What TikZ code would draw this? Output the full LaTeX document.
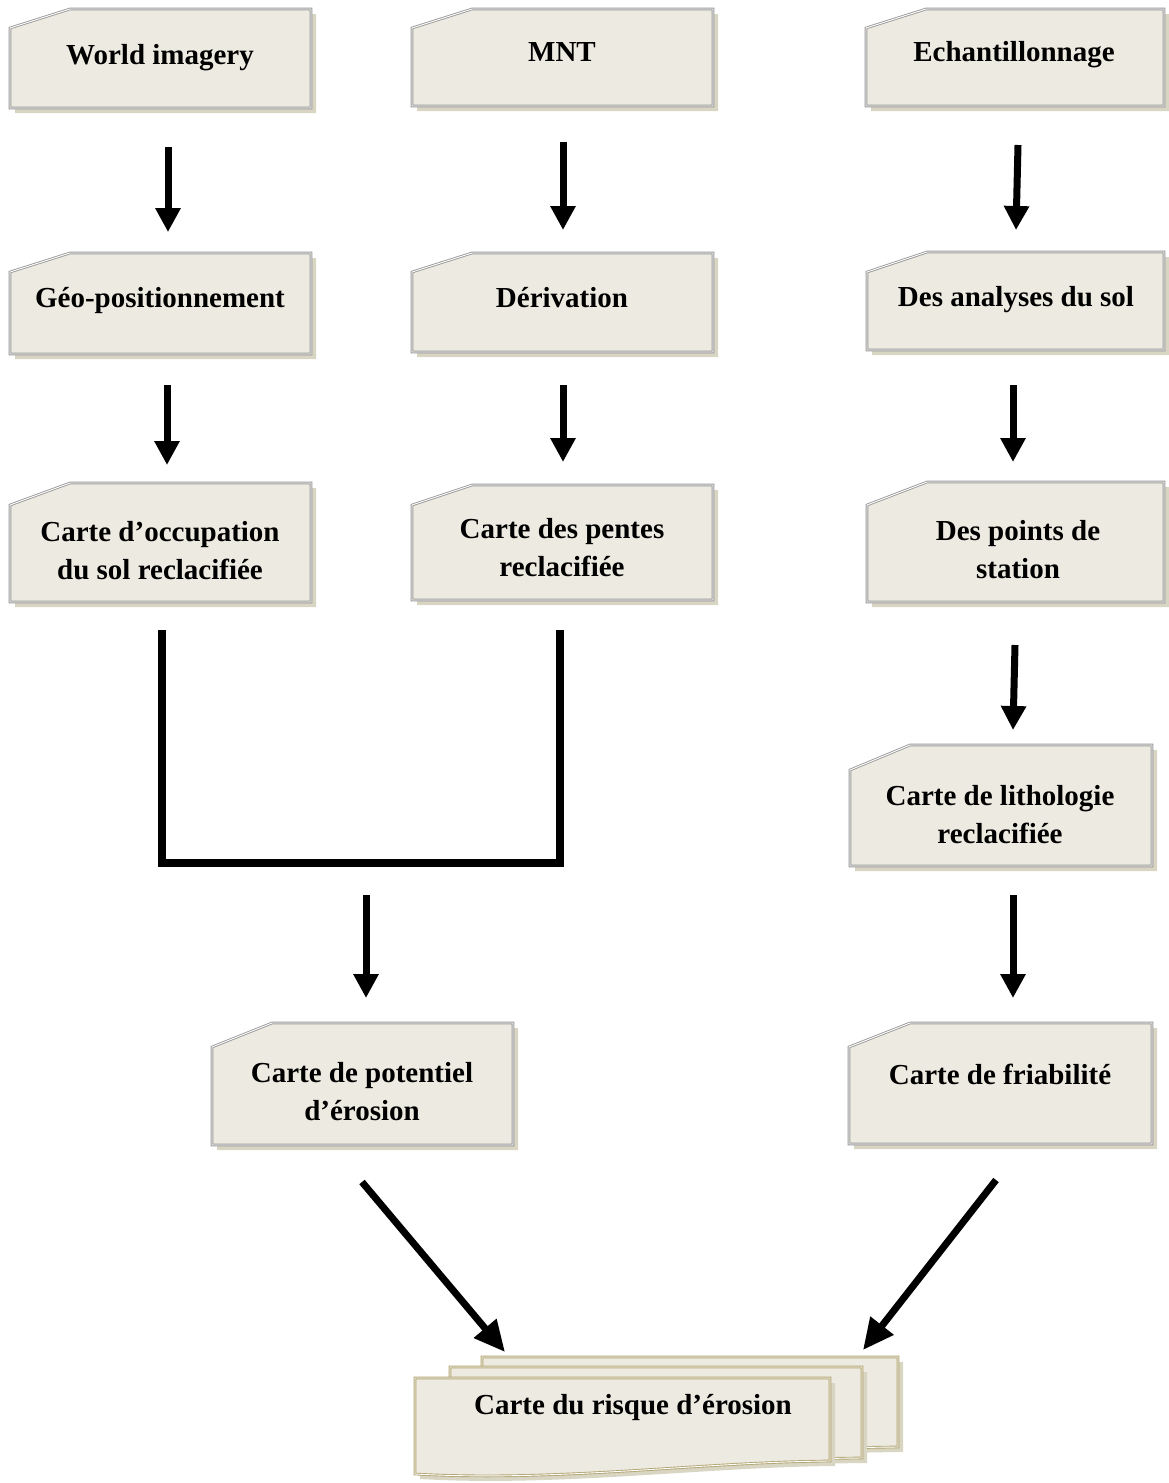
\documentclass[tikz,border=0pt]{standalone}
\usepackage{fontspec}
\setmainfont{Liberation Serif}
\usetikzlibrary{arrows.meta}
\definecolor{boxfill}{HTML}{EDEBE1}
\definecolor{boxline}{HTML}{9A9A9A}
\definecolor{shadowc}{HTML}{D9D5C3}
\definecolor{docline}{HTML}{B3A673}
\tikzset{
  boxborder/.style={fill=boxfill, draw=boxline, line width=0.9pt, double=white, double distance=0.9pt, line join=miter},
  docborder/.style={fill=boxfill, draw=docline, line width=0.9pt, double=white, double distance=0.9pt, line join=miter},
  shadowfill/.style={fill=shadowc},
  lbl/.style={font=\fontsize{29}{38}\selectfont\bfseries, align=center, inner sep=0pt},
  arr/.style={line width=7pt, -{Triangle[width=24pt,length=24pt]}},
  darr/.style={line width=7pt, -{Triangle[width=28pt,length=31pt]}},
  bracket/.style={line width=7.5pt, line join=miter}
}
% #1 left, #2 top, #3 right, #4 bottom, #5 corner x, #6 corner y
\newcommand\cutbox[6]{%
  \fill[shadowfill] (#1+5,#6+5) -- (#5+5,#2+5) -- (#3+5,#2+5) -- (#3+5,#4+5) -- (#1+5,#4+5) -- cycle;
  \draw[boxborder] (#1,#6) -- (#5,#2) -- (#3,#2) -- (#3,#4) -- (#1,#4) -- cycle;
}
% #1 left, #2 top, #3 right, #4 bottom-right y, #5 bottom-left y
\newcommand\docpage[5]{%
  \fill[shadowfill] (#1+5,#2+5) -- (#3+5,#2+5) -- (#3+5,#4+5) .. controls (#3-125,#4+6) and (#1+145,#5+13) .. (#1+5,#5+5) -- cycle;
  \draw[docborder] (#1,#2) -- (#3,#2) -- (#3,#4) .. controls (#3-130,#4+1) and (#1+145,#5+8) .. (#1,#5) -- cycle;
}
\begin{document}
\begin{tikzpicture}[x=1pt,y=-1pt]
\useasboundingbox (0,0) rectangle (1168,1483);

% ---- boxes ----
\cutbox{10}{9}{311}{108}{70}{28}
\cutbox{412}{9}{713}{106}{472}{28}
\cutbox{866}{9}{1164}{106}{926}{28}
\cutbox{10}{253}{311}{354}{70}{272}
\cutbox{412}{253}{713}{352}{472}{272}
\cutbox{867}{252}{1164}{350}{927}{272}
\cutbox{10}{483}{311}{602}{70}{505}
\cutbox{412}{485}{713}{600}{472}{505}
\cutbox{867}{482}{1164}{602}{927}{505}
\cutbox{850}{745}{1152}{866}{910}{770}
\cutbox{212}{1023}{513}{1145}{272}{1047}
\cutbox{849}{1023}{1152}{1144}{910}{1047}

% ---- multi-document ----
\docpage{482}{1357}{898}{1447}{1452}
\docpage{450}{1367}{862}{1458}{1463}
\docpage{415}{1378}{830}{1461}{1474}

% ---- labels ----
\node[lbl] (wi)  at (160,57)   {\strut World imagery};
\node[lbl] (mnt) at (562,54)   {\strut MNT};
\node[lbl] (ech) at (1014,54)  {\strut Echantillonnage};
\node[lbl] (geo) at (160,300)  {\strut Géo-positionnement};
\node[lbl] (der) at (562,300)  {\strut Dérivation};
\node[lbl] (ana) at (1016,299) {\strut Des analyses du sol};
\node[lbl] (occ) at (160,553)  {\strut Carte d’occupation\\\strut du sol reclacifiée};
\node[lbl] (pen) at (562,550)  {\strut Carte des pentes\\\strut reclacifiée};
\node[lbl] (pts) at (1018,552) {\strut Des points de\\\strut station};
\node[lbl] (lit) at (1000,817) {\strut Carte de lithologie\\\strut reclacifiée};
\node[lbl] (pot) at (362,1094) {\strut Carte de potentiel\\\strut d’érosion};
\node[lbl] (fri) at (1000,1077){\strut Carte de friabilité};
\node[lbl] (ris) at (633,1407) {\strut Carte du risque d’érosion};

% ---- connector end points ----
\coordinate (a1s) at (168,147);  \coordinate (a1e) at (168,232);
\coordinate (a2s) at (563,142);  \coordinate (a2e) at (563,230);
\coordinate (a3s) at (1018,145); \coordinate (a3e) at (1016,230);
\coordinate (a4s) at (167,385);  \coordinate (a4e) at (167,465);
\coordinate (a5s) at (563,385);  \coordinate (a5e) at (563,462);
\coordinate (a6s) at (1013,385); \coordinate (a6e) at (1013,462);
\coordinate (a7s) at (1015,645); \coordinate (a7e) at (1013,730);
\coordinate (a8s) at (366,895);  \coordinate (a8e) at (366,998);
\coordinate (a9s) at (1013,895); \coordinate (a9e) at (1013,998);
\coordinate (d1s) at (362,1182); \coordinate (d1e) at (505,1352);
\coordinate (d2s) at (996,1180); \coordinate (d2e) at (863,1350);
\coordinate (bl) at (162,630);  \coordinate (blc) at (162,863);
\coordinate (br) at (560,630);  \coordinate (brc) at (560,863);

% ---- arrows ----
\draw[arr, black!25, shift={(3,3)}] (a1s) -- (a1e);
\draw[arr] (a1s) -- (a1e);
\draw[arr] (a2s) -- (a2e);
\draw[arr] (a3s) -- (a3e);
\draw[arr] (a4s) -- (a4e);
\draw[arr] (a5s) -- (a5e);
\draw[arr] (a6s) -- (a6e);
\draw[arr] (a7s) -- (a7e);
\draw[arr] (a8s) -- (a8e);
\draw[arr] (a9s) -- (a9e);
\draw[darr] (d1s) -- (d1e);
\draw[darr] (d2s) -- (d2e);
\draw[bracket] (bl) -- (blc) -- (brc) -- (br);
\end{tikzpicture}
\end{document}
